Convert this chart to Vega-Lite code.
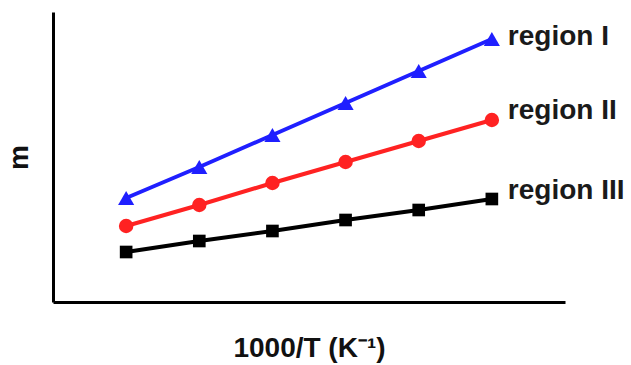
{
  "$schema": "https://vega.github.io/schema/vega-lite/v6.json",
  "width": 512,
  "height": 290,
  "autosize": {"type": "none"},
  "padding": {"left": 53, "top": 12, "right": 66, "bottom": 63},
  "background": "white",
  "config": {
    "view": {"stroke": null},
    "font": "Liberation Sans",
    "axis": {
      "domainColor": "#000000",
      "domainWidth": 3,
      "ticks": false,
      "labels": false,
      "grid": false,
      "titleFont": "Liberation Sans",
      "titleFontWeight": "bold",
      "titleFontSize": 28,
      "titleColor": "#111111"
    }
  },
  "datasets": {
    "series": [
      {"invT": 1, "m": 104, "region": "region I"},
      {"invT": 2, "m": 135, "region": "region I"},
      {"invT": 3, "m": 167, "region": "region I"},
      {"invT": 4, "m": 199, "region": "region I"},
      {"invT": 5, "m": 231, "region": "region I"},
      {"invT": 6, "m": 263, "region": "region I"},
      {"invT": 1, "m": 76, "region": "region II"},
      {"invT": 2, "m": 97, "region": "region II"},
      {"invT": 3, "m": 119, "region": "region II"},
      {"invT": 4, "m": 140, "region": "region II"},
      {"invT": 5, "m": 161, "region": "region II"},
      {"invT": 6, "m": 182, "region": "region II"},
      {"invT": 1, "m": 50, "region": "region III"},
      {"invT": 2, "m": 61, "region": "region III"},
      {"invT": 3, "m": 71, "region": "region III"},
      {"invT": 4, "m": 82, "region": "region III"},
      {"invT": 5, "m": 92, "region": "region III"},
      {"invT": 6, "m": 103, "region": "region III"}
    ],
    "labels": [
      {"invT": 6, "m": 265, "region": "region I"},
      {"invT": 6, "m": 191, "region": "region II"},
      {"invT": 6, "m": 111, "region": "region III"}
    ]
  },
  "encoding": {
    "x": {
      "field": "invT",
      "type": "quantitative",
      "scale": {"domain": [0, 7], "nice": false, "zero": false},
      "axis": {"title": "1000/T (K⁻¹)", "titlePadding": 32, "titleLetterSpacing": 1}
    },
    "y": {
      "field": "m",
      "type": "quantitative",
      "scale": {"domain": [0, 290], "nice": false},
      "axis": {"title": "m", "titlePadding": 20}
    }
  },
  "layer": [
    {
      "data": {"name": "series"},
      "mark": {"type": "line", "strokeWidth": 4},
      "encoding": {
        "color": {
          "field": "region",
          "type": "nominal",
          "scale": {"domain": ["region I", "region II", "region III"], "range": ["#1f1fff", "#ff2222", "#000000"]},
          "legend": null
        }
      }
    },
    {
      "data": {"name": "series"},
      "mark": {"type": "point", "filled": true, "opacity": 1},
      "encoding": {
        "color": {
          "field": "region",
          "type": "nominal",
          "scale": {"domain": ["region I", "region II", "region III"], "range": ["#1f1fff", "#ff2222", "#000000"]},
          "legend": null
        },
        "shape": {
          "field": "region",
          "type": "nominal",
          "scale": {"domain": ["region I", "region II", "region III"], "range": ["triangle-up", "circle", "square"]},
          "legend": null
        },
        "size": {
          "field": "region",
          "type": "nominal",
          "scale": {"domain": ["region I", "region II", "region III"], "range": [260, 160, 160]},
          "legend": null
        }
      }
    },
    {
      "data": {"name": "labels"},
      "mark": {"type": "text", "align": "left", "baseline": "middle", "dx": 16, "fontSize": 28, "fontWeight": "bold", "letterSpacing": 1, "color": "#1a1a1a", "font": "Liberation Sans"},
      "encoding": {"text": {"field": "region"}}
    }
  ]
}
